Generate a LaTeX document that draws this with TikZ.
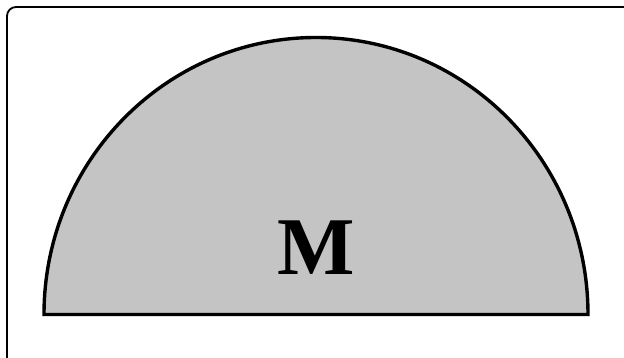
\documentclass[tikz,border=0pt]{standalone}
\usepackage{fontspec}
\setmainfont{Liberation Serif}
\usepackage{tikz}
\usetikzlibrary{positioning}

\definecolor{halfgray}{HTML}{C4C4C4}
\tikzset{
  frame/.style={draw=black,line width=1.8pt,rounded corners=9pt},
  half/.style={draw=black,fill=halfgray,line width=3.4pt},
  letter/.style={font=\fontsize{82}{82}\selectfont\bfseries,inner sep=0pt}
}

\begin{document}
\begin{tikzpicture}[x=1pt,y=-1pt]
  \useasboundingbox (0,0) rectangle (624,358);
  \begin{scope}
    \clip (0,0) rectangle (624,358);
    \draw[frame] (7,7) rectangle (636,368);
  \end{scope}
  % half disc
  \coordinate (left) at (44,314.5);
  \draw[half] (left) arc[start angle=180,end angle=360,x radius=272,y radius=277] -- cycle;
  \node[letter,anchor=base] (m) at (316,275) {M};
\end{tikzpicture}
\end{document}
